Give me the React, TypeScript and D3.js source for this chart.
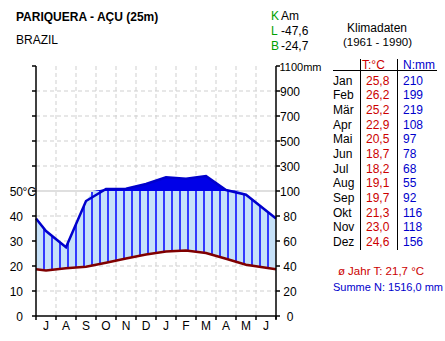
import React from "react";
import * as d3 from "d3";

const monthsTable = ["Jan", "Feb", "Mär", "Apr", "Mai", "Jun", "Jul", "Aug", "Sep", "Okt", "Nov", "Dez"];
const tempTable = [25.8, 26.2, 25.2, 22.9, 20.5, 18.7, 18.2, 19.1, 19.7, 21.3, 23.0, 24.6];
const precTable = [210, 199, 219, 108, 97, 78, 68, 55, 92, 116, 118, 156];
const axisMonths = ["J", "A", "S", "O", "N", "D", "J", "F", "M", "A", "M", "J"];
const tempTicks = [0, 10, 20, 30, 40, 50];
const tempTicksHigh = [60, 70, 80, 90, 100];
const precTicks = [0, 20, 40, 60, 80, 100, 300, 500, 700, 900, 1100];

const W = 445, H = 341;
const L = 36, R = 276, B = 316, T = 66;

export default function App() {
  // order Jul..Jun
  const order = [6, 7, 8, 9, 10, 11, 0, 1, 2, 3, 4, 5];
  const temps = order.map((i) => tempTable[i]);
  const precs = order.map((i) => precTable[i]);

  const x = d3.scaleLinear().domain([0, 12]).range([L, R]);
  const yT = d3.scaleLinear().domain([0, 50]).range([B, 191]);
  const yPlow = d3.scaleLinear().domain([0, 100]).range([B, 191]);
  const yPhigh = d3.scaleLinear().domain([100, 1100]).range([191, T]);
  const yP = (p: number) => (p <= 100 ? yPlow(p) : yPhigh(p));

  // points: Jun at left edge, Jul..May at centers, Jun at right edge
  const pos = (i: number) => (i === 11 ? 12 : i + 0.5);
  const tPts: [number, number][] = [[0, temps[11]], ...temps.map((v, i) => [pos(i), v] as [number, number])];
  const pPts: [number, number][] = [[0, precs[11]], ...precs.map((v, i) => [pos(i), v] as [number, number])];

  const interp = (pts: [number, number][], m: number) => {
    for (let k = 0; k < pts.length - 1; k++) {
      const [a, va] = pts[k];
      const [b, vb] = pts[k + 1];
      if (m >= a && m <= b) return va + ((vb - va) * (m - a)) / (b - a);
    }
    return pts[pts.length - 1][1];
  };

  const tLine = d3.line<[number, number]>().x((d) => x(d[0])).y((d) => yT(d[1]))(tPts) as string;
  const pLine = d3.line<[number, number]>().x((d) => x(d[0])).y((d) => yP(d[1]))(pPts) as string;

  const samples = d3.range(0, 12.0001, 0.05);
  const humidArea = d3
    .area<number>()
    .x((m) => x(m))
    .y0((m) => yT(interp(tPts, m)))
    .y1((m) => yP(Math.min(100, interp(pPts, m))))(samples) as string;
  const wetArea = d3
    .area<number>()
    .x((m) => x(m))
    .y0(() => yP(100))
    .y1((m) => yP(Math.max(100, interp(pPts, m))))(samples) as string;

  const hatch = d3.range(1, 30).map((k) => (k * 8) / 20);

  const gridX = d3.range(1, 12);
  const gridY = [10, 20, 30, 40];
  const gridYHigh = [300, 500, 700, 900];

  const font = "'Liberation Sans', Arial, sans-serif";
  const rowY = d3.scaleLinear().domain([0, 11]).range([84.5, 246]);
  const green = "#00a000";
  const red = "#cc0000";
  const blue = "#0000cc";

  return (
    <svg width={W} height={H} style={{ position: "absolute", left: 0, top: 0, background: "#fff" }} fontFamily={font} fontSize={12}>
      <rect width={W} height={H} fill="#fff" />
      {gridX.map((m) => (
        <line key={"gx" + m} x1={x(m)} x2={x(m)} y1={T} y2={B} stroke="#cfcfcf" strokeDasharray="4,3" />
      ))}
      {gridY.map((t) => (
        <line key={"gy" + t} x1={L} x2={R} y1={yT(t)} y2={yT(t)} stroke="#cfcfcf" strokeDasharray="4,3" />
      ))}
      {gridYHigh.map((p) => (
        <line key={"gh" + p} x1={L} x2={R} y1={yPhigh(p)} y2={yPhigh(p)} stroke="#cfcfcf" strokeDasharray="4,3" />
      ))}
      <line x1={L} x2={R} y1={yT(50)} y2={yT(50)} stroke="#d4d4d4" strokeWidth={1.5} />

      <path d={humidArea} fill="#c6e1f9" />
      {hatch.map((m, i) => (
        <line
          key={"h" + i}
          x1={x(m)}
          x2={x(m)}
          y1={yT(interp(tPts, m))}
          y2={yP(Math.min(100, interp(pPts, m)))}
          stroke="#0000ff"
          strokeWidth={1.5}
        />
      ))}
      <path d={wetArea} fill="#0000e8" />
      <path d={pLine} fill="none" stroke={blue} strokeWidth={2.5} />
      <path d={tLine} fill="none" stroke="#800000" strokeWidth={2.5} />

      <line x1={L} x2={L} y1={T} y2={B} stroke="#000" strokeWidth={1.5} />
      <line x1={R} x2={R} y1={T} y2={B + 3} stroke="#000" strokeWidth={1.5} />
      <line x1={L} x2={R} y1={B} y2={B} stroke="#000" strokeWidth={1.5} />
      {d3.range(0, 13).map((m) => (
        <line key={"xt" + m} x1={x(m)} x2={x(m)} y1={B} y2={B + 4} stroke="#000" strokeWidth={1.5} />
      ))}
      {[...tempTicks, ...tempTicksHigh].map((t) => (
        <line key={"lt" + t} x1={L - 4} x2={L} y1={yT(t)} y2={yT(t)} stroke="#000" strokeWidth={1.5} />
      ))}
      {precTicks.map((p) => (
        <line key={"rt" + p} x1={R} x2={R + 4} y1={yP(p)} y2={yP(p)} stroke="#000" strokeWidth={1.5} />
      ))}
      {axisMonths.map((mName, i) => (
        <text key={"ml" + i} x={x(i + 0.5)} y={330} textAnchor="middle">{mName}</text>
      ))}
      {tempTicks.map((t) => (
        <text key={"tl" + t} x={23} y={yT(t) + 4.5} textAnchor="end">{t}</text>
      ))}
      <text x={22.5} y={yT(50) + 4.5}>°C</text>
      {precTicks.map((p) =>
        p === 1100 ? (
          <text key={"pl" + p} x={279.5} y={yP(p) + 4.5} fontSize={11}>{p + "mm"}</text>
        ) : (
          <text key={"pl" + p} x={290} y={yP(p) + 4.5} textAnchor="middle">{p}</text>
        )
      )}

      <text x={16} y={20.5} fontWeight="bold">PARIQUERA - AÇU (25m)</text>
      <text x={16} y={43.5}>BRAZIL</text>
      <text x={271} y={19.5} fill={green}>K</text>
      <text x={281} y={19.5}>Am</text>
      <text x={271} y={34.5} fill={green}>L</text>
      <text x={281} y={34.5}>-47,6</text>
      <text x={271} y={49.5} fill={green}>B</text>
      <text x={281} y={49.5}>-24,7</text>
      <text x={377} y={31.5} textAnchor="middle">Klimadaten</text>
      <text x={377.5} y={46} textAnchor="middle" fontSize={11.5}>(1961 - 1990)</text>

      <text x={362} y={68.5} fill={red}>T:°C</text>
      <text x={403} y={68.5} fill={blue}>N:mm</text>
      <line x1={333} x2={437} y1={70.5} y2={70.5} stroke="#000" />
      <line x1={360.5} x2={360.5} y1={59} y2={250} stroke="#000" />
      <line x1={397.5} x2={397.5} y1={59} y2={250} stroke="#000" />
      {monthsTable.map((m, i) => (
        <g key={"row" + i}>
          <text x={333} y={rowY(i)}>{m}</text>
          <text x={366} y={rowY(i)} fill={red}>{tempTable[i].toFixed(1).replace(".", ",")}</text>
          <text x={403} y={rowY(i)} fill={blue}>{precTable[i]}</text>
        </g>
      ))}
      <text x={381} y={275} textAnchor="middle" fill={red} fontSize={11.5}>ø Jahr T: 21,7 °C</text>
      <text x={333} y={291} fill={blue} fontSize={11}>Summe N: 1516,0 mm</text>
    </svg>
  );
}
